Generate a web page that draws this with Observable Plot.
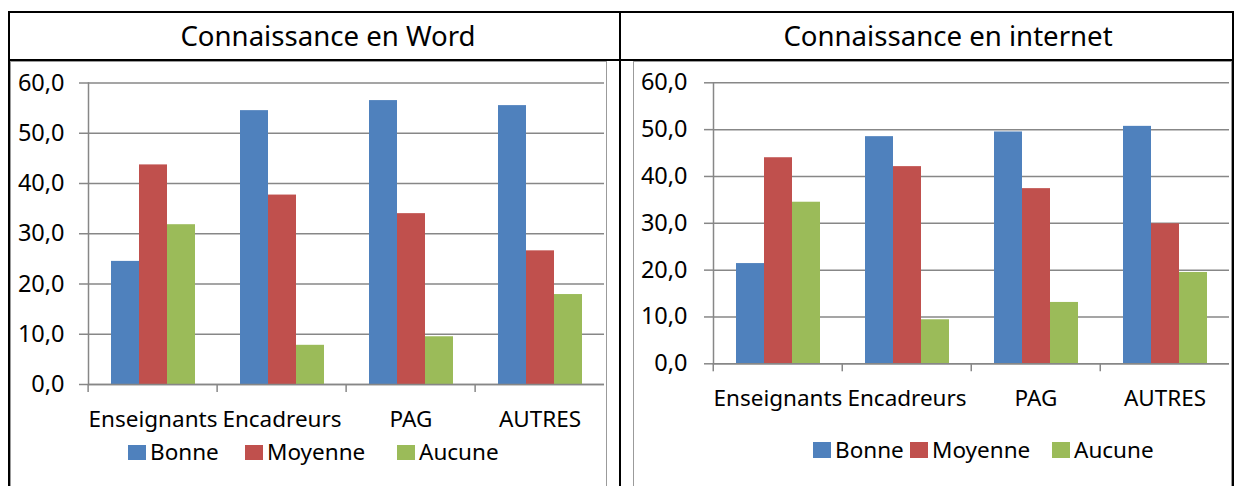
<!DOCTYPE html>
<html>
<head>
<meta charset="utf-8">
<script src="https://cdn.jsdelivr.net/npm/d3@7"></script>
<script src="https://cdn.jsdelivr.net/npm/@observablehq/plot@0.6"></script>
<style>
  html, body { margin: 0; padding: 0; background: #fff; }
  #page { position: relative; width: 1234px; height: 486px; overflow: hidden; font-family: "Noto Sans", sans-serif; color: #000; }
  .blk { position: absolute; background: #000; }
  .gframe { position: absolute; border: 1.5px solid #9b9b9b; border-bottom: none; box-sizing: border-box; }
  .title { position: absolute; width: 600px; text-align: center; font-size: 27.6px; line-height: 27.6px; white-space: nowrap; }
  .chart { position: absolute; }
  .leg { position: absolute; display: flex; align-items: center; font-size: 22.5px; line-height: 22.5px; white-space: nowrap; }
  .sw { display: inline-block; width: 17.5px; height: 15.5px; margin-right: 4.5px; }
</style>
</head>
<body>
<div id="page">
  <div class="gframe" style="left:10px;top:60.5px;width:597px;height:440px"></div>
  <div class="gframe" style="left:633px;top:60.5px;width:598.5px;height:440px"></div>
  <div class="blk" style="left:8px;top:11px;width:1226px;height:2px"></div>
  <div class="blk" style="left:8px;top:59px;width:1226px;height:2px"></div>
  <div class="blk" style="left:8px;top:11px;width:2px;height:480px"></div>
  <div class="blk" style="left:619px;top:11px;width:2px;height:480px"></div>
  <div class="blk" style="left:1232px;top:11px;width:2px;height:480px"></div>
  <div id="t1" class="title" style="left:28px;top:21.5px"></div>
  <div id="t2" class="title" style="left:648px;top:21.5px"></div>
  <div id="c1" class="chart" style="left:10px;top:61px"></div>
  <div id="c2" class="chart" style="left:634px;top:61px"></div>
</div>
<script>
// ---- data ----
const titles = ["Connaissance en Word", "Connaissance en internet"];
const categories = ["Enseignants", "Encadreurs", "PAG", "AUTRES"];
const series = ["Bonne", "Moyenne", "Aucune"];
const colors = ["#4F81BD", "#C0504D", "#9BBB59"];
const yTicks = [0, 10, 20, 30, 40, 50, 60];

const wordBonne   = [24.5, 54.5, 56.5, 55.5];
const wordMoyenne = [43.7, 37.7, 34.0, 26.6];
const wordAucune  = [31.8, 7.8, 9.5, 17.9];

const internetBonne   = [21.4, 48.5, 49.5, 50.7];
const internetMoyenne = [44.0, 42.1, 37.4, 29.9];
const internetAucune  = [34.5, 9.4, 13.1, 19.5];

// ---- drawing ----
const gridColor = "#878787";
const fmt = d => d.toFixed(1).replace(".", ",");

function rowsOf(values) {
  return categories.flatMap((c, i) => series.map((s, j) => ({category: c, series: s, value: values[j][i]})));
}

function panel(values, o) {
  const rows = rowsOf(values);
  const bw = (o.width - o.marginLeft - o.marginRight) / categories.length;
  return Plot.plot({
    width: o.width, height: o.height,
    marginLeft: o.marginLeft, marginRight: o.marginRight,
    marginTop: o.marginTop, marginBottom: o.marginBottom,
    style: {fontFamily: "'Noto Sans', sans-serif", fontSize: "22px", color: "#000", background: "transparent", overflow: "visible"},
    fx: {domain: categories, padding: 0, label: null},
    x: {domain: series, paddingInner: 0, paddingOuter: 0.75, axis: null},
    y: {domain: [0, 60]},
    color: {domain: series, range: colors},
    marks: [
      Plot.gridY(yTicks, {stroke: gridColor, strokeOpacity: 1, strokeWidth: 1.5}),
      Plot.barY(rows, {fx: "category", x: "series", y: "value", fill: "series"}),
      Plot.ruleY([0], {stroke: gridColor, strokeWidth: 1.5}),
      Plot.frame({anchor: "left", facetAnchor: "left", stroke: gridColor, strokeWidth: 1.5}),
      Plot.axisY(yTicks, {anchor: "left", tickSize: 9, tickPadding: o.yPad, tickFormat: fmt, stroke: gridColor, strokeWidth: 1.5, fill: "#000", fontSize: 23.5, label: null}),
      Plot.axisFx({anchor: "bottom", tickSize: 0, tickPadding: 26.5, fill: "#000", fontSize: 22.5, label: null}),
      Plot.axisFx({anchor: "bottom", tickSize: 8, dx: -bw / 2, stroke: gridColor, strokeWidth: 1.5, fill: "none", label: null})
    ]
  });
}

function legend(container, left, top) {
  series.forEach((s, i) => {
    const item = document.createElement("div");
    item.className = "leg";
    item.style.left = left[i] + "px";
    item.style.top = top + "px";
    const sw = document.createElement("span");
    sw.className = "sw";
    sw.style.background = colors[i];
    item.appendChild(sw);
    item.appendChild(document.createTextNode(s));
    container.appendChild(item);
  });
}

document.getElementById("t1").textContent = titles[0];
document.getElementById("t2").textContent = titles[1];

document.getElementById("c1").appendChild(panel([wordBonne, wordMoyenne, wordAucune],
  {width: 596, height: 373, marginLeft: 76, marginRight: 1, marginTop: 21.5, marginBottom: 50, yPad: 15}));
document.getElementById("c2").appendChild(panel([internetBonne, internetMoyenne, internetAucune],
  {width: 596, height: 352.3, marginLeft: 78, marginRight: 0, marginTop: 21.3, marginBottom: 50, yPad: 17}));

const page = document.getElementById("page");
legend(page, [128, 245, 397], 441);
legend(page, [813, 910, 1052], 438.5);
</script>
</body>
</html>
